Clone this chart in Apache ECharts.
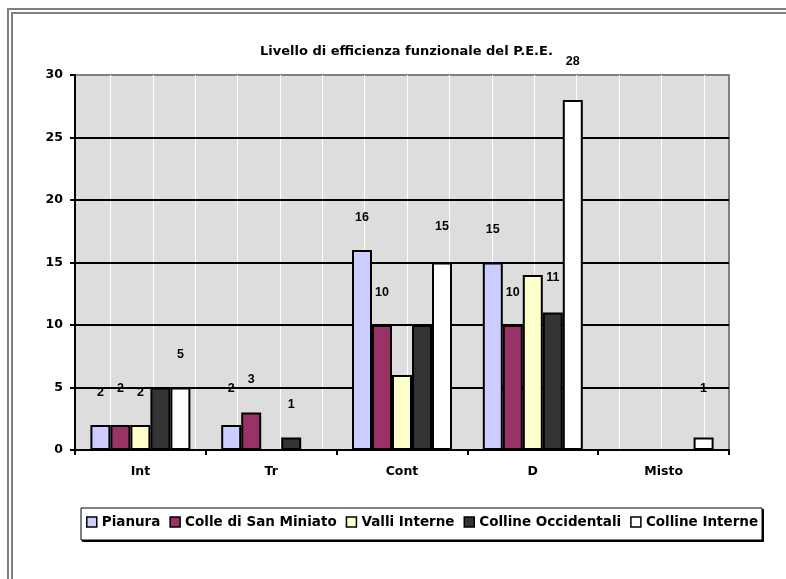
<!DOCTYPE html>
<html>
<head>
<meta charset="utf-8">
<script src="https://cdn.jsdelivr.net/npm/echarts@6/dist/echarts.min.js"></script>
<style>html,body{margin:0;padding:0;background:#fff;}#c{width:786px;height:579px;}</style>
</head>
<body>
<div id="c"></div>
<script>
// ---- data ----
const categories = ['Int', 'Tr', 'Cont', 'D', 'Misto'];
const seriesNames = ['Pianura', 'Colle di San Miniato', 'Valli Interne', 'Colline Occidentali', 'Colline Interne'];
const pianura = [2, 2, 16, 15, 0];
const colleSanMiniato = [2, 3, 10, 10, 0];
const valliInterne = [2, 0, 6, 14, 0];
const collineOccidentali = [5, 1, 10, 11, 0];
const collineInterne = [5, 0, 15, 28, 1];
const yMin = 0, yMax = 30, yStep = 5;
const titleText = 'Livello di efficienza funzionale del P.E.E.';

// ---- styling ----
const FONT = 'DejaVu Sans';
const colors = ['#CCCCFF', '#993366', '#FFFFCC', '#333333', '#FFFFFF'];
// which data labels are displayed in the original, and small vertical nudges
const labelShow = [
  [1, 1, 1, 1, 0],
  [1, 1, 1, 1, 0],
  [1, 0, 0, 0, 0],
  [0, 1, 0, 1, 0],
  [1, 0, 1, 1, 1]
];
const labelNudge = [
  [0, -4, 0, 0, 0],
  [-4, 0, 0, 0, 0],
  [0, 0, 0, 0, 0],
  [0, 0, 0, -2, 0],
  [0, 0, -3, -6, -16]
];
const allValues = [pianura, colleSanMiniato, valliInterne, collineOccidentali, collineInterne];

const series = allValues.map((vals, si) => ({
  name: seriesNames[si],
  type: 'bar',
  xAxisIndex: 0,
  yAxisIndex: 0,
  barWidth: 20,
  barGap: '0%',
  z: 3,
  itemStyle: { color: colors[si], borderColor: '#000', borderWidth: 2 },
  label: {
    show: false, position: 'top', distance: 26,
    fontFamily: 'Liberation Sans', fontWeight: 'bold', fontSize: 12.5, color: '#000'
  },
  data: vals.map((v, ci) => ({
    value: v,
    label: { show: !!labelShow[si][ci], offset: [0, labelNudge[si][ci]] }
  }))
}));

const chart = echarts.init(document.getElementById('c'), null, { renderer: 'canvas' });
chart.setOption({
  backgroundColor: '#fff',
  animation: false,
  title: {
    text: titleText, left: 255, top: 40,
    textStyle: { fontFamily: FONT, fontWeight: 'bold', fontSize: 13, color: '#000' }
  },
  legend: {
    data: seriesNames, left: 86, top: 515, padding: 0,
    itemWidth: 10, itemHeight: 10, itemGap: 9, icon: 'rect',
    itemStyle: { borderColor: '#000', borderWidth: 1.5 },
    textStyle: { fontFamily: FONT, fontWeight: 'bold', fontSize: 13.5, color: '#000' }
  },
  grid: [
    { left: 75, right: 57, top: 75, bottom: 129, show: true, backgroundColor: '#DDDDDD',
      borderColor: '#808080', borderWidth: 2, z: 0 },
    { left: 68, width: 657, top: 75, bottom: 129, show: false }
  ],
  xAxis: [
    {
      type: 'category', data: categories, gridIndex: 0, z: 2,
      axisLine: { show: true, lineStyle: { color: '#000', width: 2 } },
      axisTick: { show: true, length: 5, interval: 0, lineStyle: { color: '#000', width: 2 } },
      axisLabel: { margin: 15, fontFamily: FONT, fontWeight: 'bold', fontSize: 12.5, color: '#000' },
      splitLine: { show: false }
    },
    {
      type: 'value', gridIndex: 1, min: 0, max: 15.5, interval: 1, z: 1,
      axisLine: { show: false }, axisTick: { show: false }, axisLabel: { show: false },
      splitLine: { show: true, showMinLine: false, showMaxLine: false, lineStyle: { color: '#FFFFFF', width: 1 } }
    }
  ],
  yAxis: [
    {
      type: 'value', gridIndex: 0, min: yMin, max: yMax, interval: yStep, z: 2,
      axisLine: { show: true, lineStyle: { color: '#000', width: 2 } },
      axisTick: { show: true, length: 5, lineStyle: { color: '#000', width: 2 } },
      axisLabel: { margin: 12, fontFamily: FONT, fontWeight: 'bold', fontSize: 12.5, color: '#000' },
      splitLine: { show: true, showMinLine: false, showMaxLine: false, lineStyle: { color: '#000', width: 2 } }
    },
    {
      type: 'value', gridIndex: 1, min: 0, max: 1, show: false, splitLine: { show: false }
    }
  ],
  graphic: [
    { type: 'rect', z: 0, silent: true, shape: { x: 8, y: 9, width: 1000, height: 1000 },
      style: { fill: null, stroke: '#808080', lineWidth: 2 } },
    { type: 'rect', z: 0, silent: true, shape: { x: 12, y: 13, width: 1000, height: 1000 },
      style: { fill: null, stroke: '#808080', lineWidth: 2 } },
    { type: 'rect', z: 0, silent: true, shape: { x: 82.5, y: 509.5, width: 681, height: 32 },
      style: { fill: '#000', stroke: '#000', lineWidth: 1 } },
    { type: 'rect', z: 0, silent: true, shape: { x: 81, y: 508, width: 681, height: 32 },
      style: { fill: '#fff', stroke: '#000', lineWidth: 1 } }
  ],
  series: series
});
</script>
</body>
</html>
